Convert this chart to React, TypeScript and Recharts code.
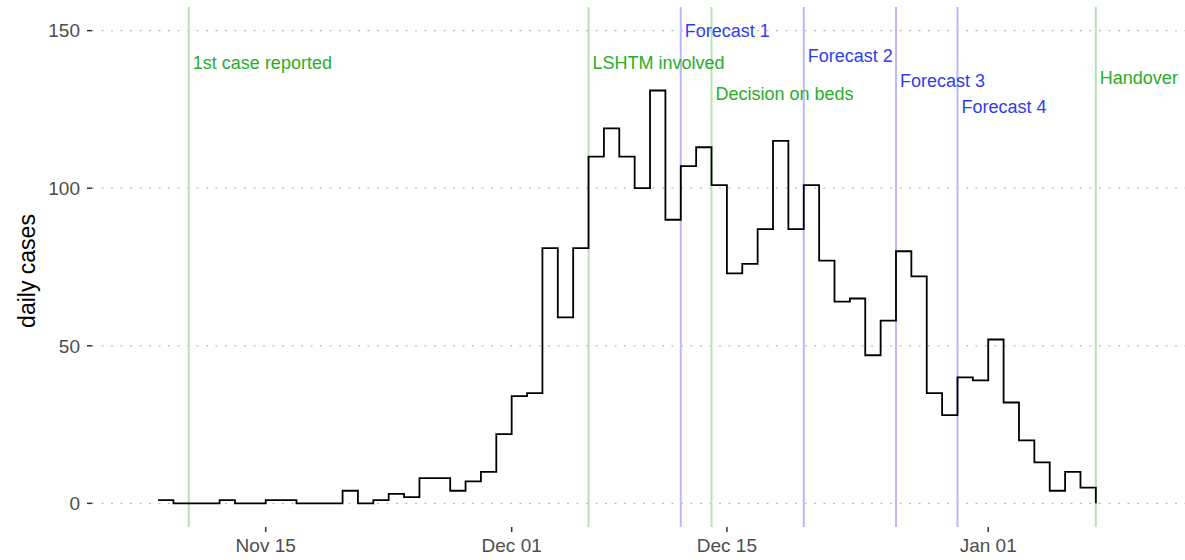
import React from 'react';
import {
    LineChart,
    Line,
    XAxis,
    YAxis,
    CartesianGrid,
    ReferenceLine,
    ReferenceDot,
} from 'recharts';

// daily reported cases, one value per day starting Nov 08
const startDate = '2017-11-08';
const dailyCases = [
    1, 0, 0, 0, 1, 0, 0, 1, 1, 0, 0, 0, 4, 0, 1, 3, 2, 8, 8, 4, 7, 10, 22,
    34, 35, 81, 59, 81, 110, 119, 110, 100, 131, 90, 107, 113, 101, 73, 76, 87,
    115, 87, 101, 77, 64, 65, 47, 58, 80, 72, 35, 28, 40, 39, 52, 32, 20, 13,
    4, 10, 5, 0,
];

const eventDates = [
    '2017-11-10',
    '2017-12-06',
    '2017-12-12',
    '2017-12-14',
    '2017-12-20',
    '2017-12-26',
    '2017-12-30',
    '2018-01-08',
];
const eventLabels = [
    '1st case reported',
    'LSHTM involved',
    'Forecast 1',
    'Decision on beds',
    'Forecast 2',
    'Forecast 3',
    'Forecast 4',
    'Handover',
];
const eventKinds = ['milestone', 'milestone', 'forecast', 'milestone', 'forecast', 'forecast', 'forecast', 'milestone'];
// height (in cases) where each label sits
const eventLabelHeights = [140, 140, 150, 130, 142, 134, 126, 135];

const tickDates = ['2017-11-15', '2017-12-01', '2017-12-15', '2018-01-01'];
const tickLabels = ['Nov 15', 'Dec 01', 'Dec 15', 'Jan 01'];
const yTicks = [0, 50, 100, 150];

const DAY = 24 * 3600 * 1000;
const toTime = (d: string) => Date.parse(d + 'T00:00:00Z');

const data = dailyCases.map((cases, i) => ({
    t: toTime(startDate) + i * DAY,
    cases,
}));

const xDomain = [toTime('2017-11-15') - 11.3 * DAY, toTime('2017-11-15') + 59.8 * DAY];

const FONT = '"Liberation Sans", Arial, Helvetica, sans-serif';
const lineColor = { milestone: '#b9e2b4', forecast: '#b9b9fb' };
const textColor = { milestone: '#29ad29', forecast: '#2d3ef0' };

const formatTick = (v: number) => {
    const i = tickDates.findIndex((d) => toTime(d) === v);
    return i >= 0 ? tickLabels[i] : '';
};

const YTitle = (props: any) => {
    const vb = props.viewBox || { x: 0, y: 0, height: 0 };
    const x = vb.x + 27;
    const y = vb.y + vb.height / 2 + 4;
    return (
        <text
            x={x}
            y={y}
            transform={`rotate(-90 ${x} ${y})`}
            textAnchor="middle"
            dominantBaseline="central"
            fill="#000"
            fontSize={23}
            fontFamily={FONT}
        >
            daily cases
        </text>
    );
};

export default function App() {
    return (
        <div style={{ position: 'absolute', left: 0, top: 0, background: '#fff' }}>
            <LineChart
                width={1185}
                height={560}
                data={data}
                margin={{ top: 7, right: 0, bottom: 0, left: 0 }}
            >
                <CartesianGrid
                    horizontal
                    vertical={false}
                    horizontalValues={yTicks}
                    stroke="#bdbdbd"
                    strokeWidth={1.3}
                    strokeDasharray="2 7.5"
                />
                <XAxis
                    dataKey="t"
                    type="number"
                    scale="time"
                    domain={xDomain}
                    ticks={tickDates.map(toTime)}
                    tickFormatter={formatTick}
                    axisLine={false}
                    tickSize={5}
                    tickMargin={7}
                    tickLine={{ stroke: '#333', strokeWidth: 1.5 }}
                    tick={{ fill: '#4d4d4d', fontSize: 19, fontFamily: FONT }}
                    height={33}
                    allowDataOverflow
                />
                <YAxis
                    type="number"
                    domain={[-7.5, 157.5]}
                    ticks={yTicks}
                    axisLine={false}
                    tickSize={5}
                    tickMargin={7}
                    tickLine={{ stroke: '#333', strokeWidth: 1.5 }}
                    tick={{ fill: '#4d4d4d', fontSize: 19, fontFamily: FONT }}
                    width={92}
                    allowDataOverflow
                    label={<YTitle />}
                />
                {eventDates.map((d, i) => (
                    <ReferenceLine
                        key={'line-' + d}
                        x={toTime(d)}
                        stroke={lineColor[eventKinds[i] as 'milestone' | 'forecast']}
                        strokeWidth={2}
                    />
                ))}
                <Line
                    type="stepAfter"
                    dataKey="cases"
                    stroke="#000"
                    strokeWidth={1.8}
                    dot={false}
                    isAnimationActive={false}
                />
                {eventDates.map((d, i) => (
                    <ReferenceDot
                        key={'label-' + d}
                        x={toTime(d)}
                        y={eventLabelHeights[i]}
                        r={0}
                        fill="none"
                        stroke="none"
                        label={{
                            value: eventLabels[i],
                            position: 'right',
                            offset: 4,
                            fill: textColor[eventKinds[i] as 'milestone' | 'forecast'],
                            fontSize: 18,
                            fontFamily: FONT,
                        }}
                    />
                ))}
            </LineChart>
        </div>
    );
}
